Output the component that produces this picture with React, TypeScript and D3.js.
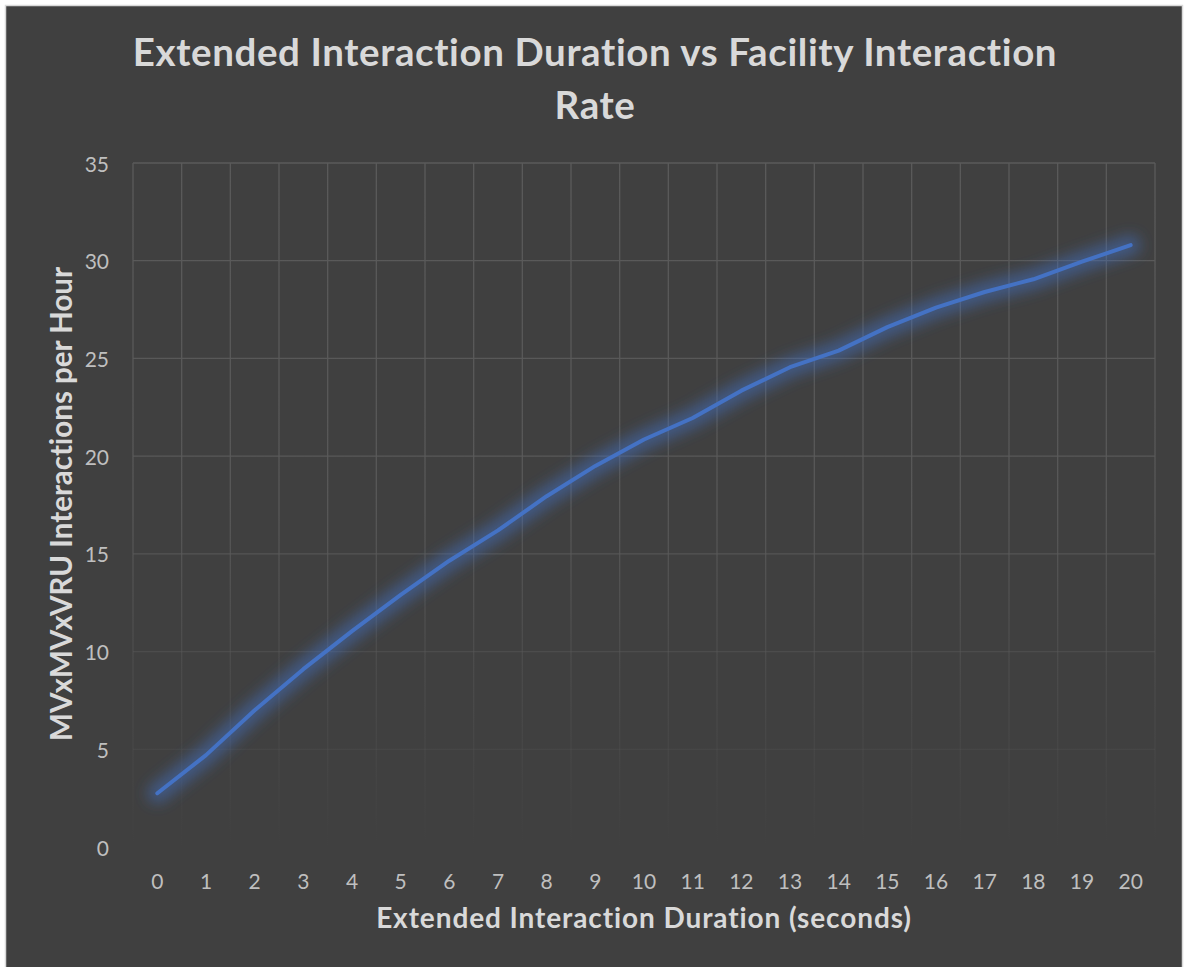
import React from "react";
import * as d3 from "d3";

const durations: number[] = [0, 1, 2, 3, 4, 5, 6, 7, 8, 9, 10, 11, 12, 13, 14, 15, 16, 17, 18, 19, 20];
const interactionsPerHour: number[] = [
  2.75, 4.7, 7.0, 9.1, 11.05, 12.9, 14.65, 16.2, 17.95, 19.5, 20.85,
  21.95, 23.35, 24.55, 25.4, 26.6, 27.6, 28.4, 29.05, 29.95, 30.8,
];
const yTicks: number[] = [0, 5, 10, 15, 20, 25, 30, 35];
const titleLines: string[] = ["Extended Interaction Duration vs Facility Interaction", "Rate"];
const xTitle = "Extended Interaction Duration (seconds)";
const yTitle = "MVxMVxVRU Interactions per Hour";

const W = 1185;
const H = 967;
const plot = { left: 133, right: 1155, top: 163, bottom: 847 };
const FONT = "Lato, 'Open Sans', sans-serif";

export default function App() {
  const x = d3
    .scaleBand<number>()
    .domain(durations)
    .range([plot.left, plot.right])
    .paddingInner(0)
    .paddingOuter(0);
  const y = d3.scaleLinear().domain([0, 35]).range([plot.bottom, plot.top]);
  const cx = (d: number) => (x(d) as number) + x.bandwidth() / 2;

  const line = d3
    .line<number>()
    .x((_, i) => cx(durations[i]))
    .y((v) => y(v))
    .curve(d3.curveLinear);
  const pathD = line(interactionsPerHour) || "";

  const edges = [...durations.map((d) => x(d) as number), plot.right];
  const noLig = { fontVariantLigatures: "none" as const };

  return (
    <svg
      width={W}
      height={H}
      style={{ position: "absolute", left: 0, top: 0, background: "#ffffff" }}
    >
      <defs>
        <linearGradient id="gridFade" gradientUnits="userSpaceOnUse" x1={0} y1={plot.top} x2={0} y2={plot.bottom}>
          <stop offset="0" stopColor="#5a5a5a" stopOpacity={1} />
          <stop offset="0.5" stopColor="#5a5a5a" stopOpacity={0.9} />
          <stop offset="0.72" stopColor="#5a5a5a" stopOpacity={0.45} />
          <stop offset="1" stopColor="#5a5a5a" stopOpacity={0} />
        </linearGradient>
        <filter id="glow" x="-20%" y="-20%" width="140%" height="140%">
          <feGaussianBlur stdDeviation="7" />
        </filter>
      </defs>
      <rect x={5.5} y={5.5} width={1177} height={970} fill="#404040" stroke="#d9d9d9" strokeWidth={1.5} />

      {/* gridlines */}
      <g>
        {yTicks.map((t) => (
          <line key={"h" + t} x1={plot.left} x2={plot.right} y1={y(t)} y2={y(t)} stroke="url(#gridFade)" strokeWidth={1.3} />
        ))}
        {edges.map((e, i) => (
          <line key={"v" + i} x1={e} x2={e} y1={plot.top} y2={plot.bottom} stroke="url(#gridFade)" strokeWidth={1.3} />
        ))}
      </g>

      {/* tick labels */}
      <g fontFamily={FONT} fontSize={21} fill="#bfbfbf" style={noLig}>
        {yTicks.map((t) => (
          <text key={"yl" + t} x={109} y={y(t)} textAnchor="end" dominantBaseline="central">
            {t}
          </text>
        ))}
        {durations.map((d) => (
          <text key={"xl" + d} x={cx(d)} y={880} textAnchor="middle" dominantBaseline="central">
            {d}
          </text>
        ))}
      </g>

      {/* series */}
      <path d={pathD} fill="none" stroke="#4472c4" strokeOpacity={0.5} strokeWidth={20} strokeLinecap="round" strokeLinejoin="round" filter="url(#glow)" />
      <path d={pathD} fill="none" stroke="#4472c4" strokeWidth={4} strokeLinecap="round" strokeLinejoin="round" />

      {/* titles */}
      <g fontFamily={FONT} fontWeight="bold" fill="#d9d9d9" textAnchor="middle" style={noLig}>
        <text x={595} y={66} fontSize={38.5} letterSpacing={0.6}>{titleLines[0]}</text>
        <text x={595} y={119} fontSize={38.5} letterSpacing={0.6}>{titleLines[1]}</text>
        <text x={644} y={928} fontSize={28} letterSpacing={0.9}>{xTitle}</text>
        <text transform={`translate(72,504) rotate(-90)`} x={0} y={0} fontSize={29.5}>{yTitle}</text>
      </g>
    </svg>
  );
}
